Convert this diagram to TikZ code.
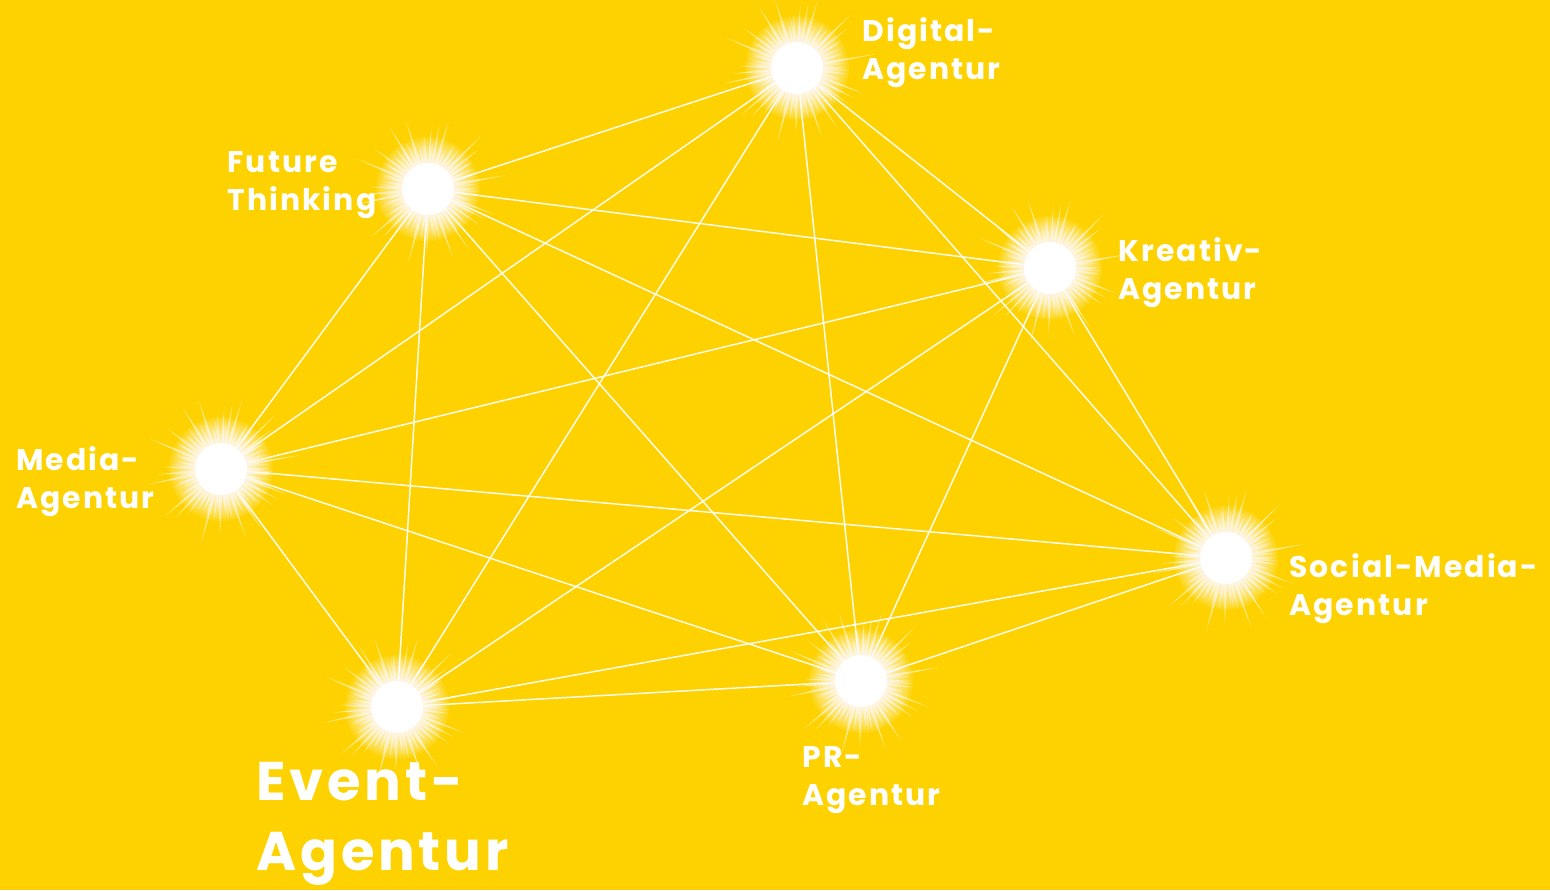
\documentclass[tikz,border=0pt]{standalone}
\usepackage{fontspec}
\setmainfont{Poppins}[LetterSpace=7]
\usepackage{tikz}

\definecolor{bg}{RGB}{253,210,0}

\tikzstyle{hub} = [shape=coordinate]
\tikzstyle{link} = [draw=white, line width=0.85pt, opacity=0.92]
\tikzstyle{tag} = [text=white, anchor=north west, inner sep=0pt, align=left, font=\bfseries\fontsize{17}{22}\selectfont]
\tikzstyle{bigtag} = [tag, font=\bfseries\fontsize{31}{39.5}\selectfont]

% star burst: rays, soft halo of stacked circles, white core
\newcommand{\burst}[1]{%
 \begin{scope}[shift={(#1)}]
  \foreach \a in {0,7,...,356} {
   \pgfmathsetmacro\len{42+38*abs(sin(11*\a+17))*abs(cos(5*\a+40))}
   \fill[white, opacity=0.55] (\a-4:24) -- (\a:\len) -- (\a+4:24) -- cycle;
  }
  \foreach \a in {3,16,...,356} {
   \pgfmathsetmacro\len{36+18*abs(cos(7*\a+5))}
   \fill[white, opacity=0.3] (\a-7:22) -- (\a:\len) -- (\a+7:22) -- cycle;
  }
  \foreach \r in {24,26,...,52}
   \fill[white, opacity=0.09] (0,0) circle (\r);
  \fill[white] (0,0) circle (26);
 \end{scope}}

\begin{document}
\begin{tikzpicture}[x=0.02cm, y=-0.02cm]

\useasboundingbox (0,0) rectangle (1550,890);
\fill[bg] (0,0) rectangle (1550,890);

\node (digital) [hub] at (797,68) {};
\node (future) [hub] at (428,189) {};
\node (kreativ) [hub] at (1050,268) {};
\node (media) [hub] at (221,469) {};
\node (social) [hub] at (1226,558) {};
\node (pr) [hub] at (861,681) {};
\node (event) [hub] at (397,707) {};

% everything is connected with everything
\foreach \i/\j in {digital/future, digital/kreativ, digital/media, digital/social, digital/pr, digital/event,
  future/kreativ, future/media, future/social, future/pr, future/event,
  kreativ/media, kreativ/social, kreativ/pr, kreativ/event,
  media/social, media/pr, media/event,
  social/pr, social/event,
  pr/event}
  \draw[link] (\i) -- (\j);

\foreach \n in {digital, future, kreativ, media, social, pr, event}
  \burst{\n};

\node (digitaltag) [tag] at (862,17) {Digital-\\Agentur};
\node (futuretag) [tag] at (227,151) {Future\\Thinking};
\node (kreativtag) [tag] at (1118,237) {Kreativ-\\Agentur};
\node (mediatag) [tag] at (16,446) {Media-\\Agentur};
\node (socialtag) [tag] at (1289,553) {Social-Media-\\Agentur};
\node (prtag) [tag] at (802,746) {PR-\\Agentur};
\node (eventtag) [bigtag] at (256,762) {Event-\\Agentur};

\end{tikzpicture}
\end{document}
